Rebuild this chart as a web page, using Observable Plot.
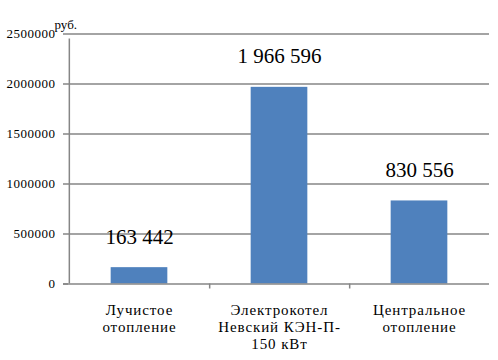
<!DOCTYPE html>
<html>
<head>
<meta charset="utf-8">
<script src="https://cdn.jsdelivr.net/npm/d3@7"></script>
<script src="https://cdn.jsdelivr.net/npm/@observablehq/plot@0.6"></script>
<style>
  html, body { margin: 0; padding: 0; background: #fff; }
  #chart svg { display: block; }
  #chart g[aria-label="x-axis tick label"] text { letter-spacing: 0.9px; }
  #chart g[aria-label="y-axis tick label"] text { letter-spacing: 0.5px; }
</style>
</head>
<body>
<div id="chart"></div>
<script>
const categories = ["Лучистое\nотопление", "Электрокотел\nНевский КЭН-П-\n150 кВт", "Центральное\nотопление"];
const values = [163442, 1966596, 830556];
const valueLabels = ["163 442", "1 966 596", "830 556"];
const yTicks = [0, 500000, 1000000, 1500000, 2000000, 2500000];
const unitLabel = "руб.";

const data = categories.map((c, i) => ({cat: c, value: values[i], label: valueLabels[i]}));

const W = 498, H = 360;
const mL = 68, mR = 9, mT = 33.5, mB = 76.5;
const step = (W - mL - mR) / categories.length;
const barW = 57;
const grid = "#868686";
const font = "'Liberation Serif', 'Times New Roman', serif";

const chart = Plot.plot({
  width: W,
  height: H,
  marginLeft: mL,
  marginRight: mR,
  marginTop: mT,
  marginBottom: mB,
  style: {background: "#fff", color: "#000", fontFamily: font},
  x: {domain: categories, padding: 0, label: null},
  y: {domain: [0, 2500000], label: null},
  marks: [
    Plot.ruleY(yTicks.slice(1), {stroke: grid, strokeWidth: 1.5}),
    Plot.axisY({ticks: yTicks, tickFormat: d => String(d), tickSize: 5, tickPadding: 8, stroke: grid, strokeWidth: 1.5, fill: "#000", fontSize: 13, label: null}),
    Plot.barY(data, {x: "cat", y: "value", fill: "#4F81BD", insetLeft: (step - barW) / 2, insetRight: (step - barW) / 2}),
    Plot.ruleY([0], {stroke: grid, strokeWidth: 1.5, insetLeft: -5}),
    Plot.ruleX([categories[0]], {y1: 0, y2: 2500000, dx: -step / 2, stroke: grid, strokeWidth: 1.5, insetBottom: -5}),
    Plot.ruleX(categories.slice(0, 2), {y1: 0, y2: 0, dx: step / 2, stroke: grid, strokeWidth: 1.5, insetBottom: -5}),
    Plot.axisX({tickSize: 0, tickPadding: 19, fontSize: 15, lineHeight: 1.14, fill: "#000", label: null}),
    Plot.text(data, {x: "cat", y: "value", text: "label", fontSize: 21, lineAnchor: "bottom", dy: -24, fill: "#000"}),
    Plot.text([unitLabel], {frameAnchor: "top-left", textAnchor: "start", lineAnchor: "bottom", dx: -14, dy: -5, fontSize: 13, fill: "#000"})
  ]
});
document.getElementById("chart").appendChild(chart);
</script>
</body>
</html>
